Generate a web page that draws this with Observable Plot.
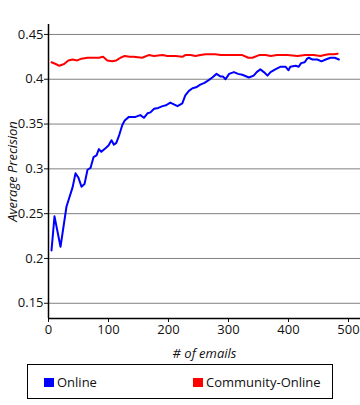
<!DOCTYPE html>
<html>
<head>
<meta charset="utf-8">
<script src="https://cdn.jsdelivr.net/npm/d3@7"></script>
<script src="https://cdn.jsdelivr.net/npm/@observablehq/plot@0.6"></script>
<style>
  html, body { margin: 0; padding: 0; background: #fff; }
  #wrap { position: relative; width: 360px; height: 405px; font-family: "Open Sans", "Noto Sans", sans-serif; }
  #wrap svg { font-family: "Open Sans", "Noto Sans", sans-serif; }
  #legend { position: absolute; left: 27px; top: 364px; width: 304px; height: 33px; border: 1.5px solid #000; box-sizing: content-box; font-size: 13px; color: #111; }
  .item { position: absolute; top: 8px; display: flex; align-items: center; }
  .sw { width: 10px; height: 9px; margin-right: 3px; }
</style>
</head>
<body>
<div id="wrap"><div id="chart"></div>
<div id="legend">
  <div class="item" style="left:16px"><div class="sw" style="background:#0000ff"></div><span>Online</span></div>
  <div class="item" style="left:165px"><div class="sw" style="background:#ff0000"></div><span>Community-Online</span></div>
</div>
</div>
<script>
const onlineX = [5,10,20,30,40,45,50,55,60,65,70,75,80,84,88,95,100,105,109,113,118,123,127,134,145,153,159,165,170,176,183,190,196,203,209,215,223,228,234,240,246,253,260,267,273,280,287,291,295,301,309,316,323,334,342,347,353,359,365,370,378,387,395,400,403,412,417,421,427,431,434,440,448,455,462,470,477,484];
const onlineY = [0.209,0.247,0.213,0.258,0.279,0.295,0.290,0.280,0.283,0.299,0.301,0.313,0.315,0.322,0.319,0.323,0.326,0.332,0.327,0.329,0.338,0.349,0.354,0.358,0.358,0.360,0.357,0.362,0.363,0.367,0.368,0.370,0.371,0.374,0.372,0.370,0.373,0.382,0.387,0.390,0.391,0.394,0.396,0.399,0.402,0.406,0.403,0.403,0.400,0.406,0.408,0.406,0.405,0.402,0.404,0.408,0.411,0.408,0.404,0.408,0.411,0.414,0.414,0.410,0.414,0.415,0.414,0.418,0.419,0.423,0.424,0.422,0.422,0.420,0.422,0.424,0.424,0.422];

const communityX = [5,12,18,26,33,40,48,55,65,76,84,91,98,106,113,120,127,135,142,156,167,176,190,198,212,223,228,237,245,253,262,270,278,287,295,309,323,333,340,351,362,370,381,398,415,428,442,453,460,467,476,482];
const communityY = [0.419,0.417,0.415,0.417,0.421,0.422,0.421,0.423,0.424,0.424,0.424,0.425,0.421,0.420,0.421,0.424,0.426,0.425,0.425,0.424,0.427,0.426,0.427,0.426,0.426,0.425,0.427,0.427,0.426,0.427,0.428,0.428,0.428,0.427,0.427,0.427,0.427,0.424,0.424,0.427,0.427,0.426,0.427,0.427,0.426,0.427,0.427,0.426,0.427,0.428,0.428,0.4285];

const xTicks = [0,100,200,300,400,500];
const yTicks = [0.15,0.2,0.25,0.3,0.35,0.4,0.45];
const xDomain = [0,520];
const yDomain = [0.133,0.4611];
const xLabel = "# of emails";
const yLabel = "Average Precision";

const online = onlineX.map((x,i)=>({x, y: onlineY[i]}));
const community = communityX.map((x,i)=>({x, y: communityY[i]}));

const chart = Plot.plot({
  width: 360, height: 362,
  marginLeft: 48, marginRight: 0, marginTop: 24, marginBottom: 44,
  style: {fontSize: "13px", color: "#111", background: "#fff"},
  x: {domain: xDomain},
  y: {domain: yDomain},
  marks: [
    Plot.gridY(yTicks, {stroke: "#808080", strokeOpacity: 1, strokeWidth: 1}),
    Plot.axisX(xTicks, {tickSize: 4, tickPadding: 2, label: null, tickFormat: d => d}),
    Plot.axisY(yTicks, {tickSize: 4, tickPadding: 1, label: null, tickFormat: d => String(d)}),
    Plot.text([xLabel], {frameAnchor: "bottom", textAnchor: "middle", lineAnchor: "bottom", dy: 39, fontStyle: "italic", fontSize: 13}),
    Plot.text([yLabel], {frameAnchor: "left", textAnchor: "middle", rotate: -90, dx: -36, fontStyle: "italic", fontSize: 13}),
    Plot.ruleX([xDomain[0]], {stroke: "#000", strokeWidth: 1.5}),
    Plot.ruleY([yDomain[0]], {stroke: "#000", strokeWidth: 1.5}),
    Plot.line(community, {x: "x", y: "y", stroke: "#ff0000", strokeWidth: 2}),
    Plot.line(online, {x: "x", y: "y", stroke: "#0000ff", strokeWidth: 2})
  ]
});
document.getElementById("chart").appendChild(chart);
</script>
</body>
</html>
